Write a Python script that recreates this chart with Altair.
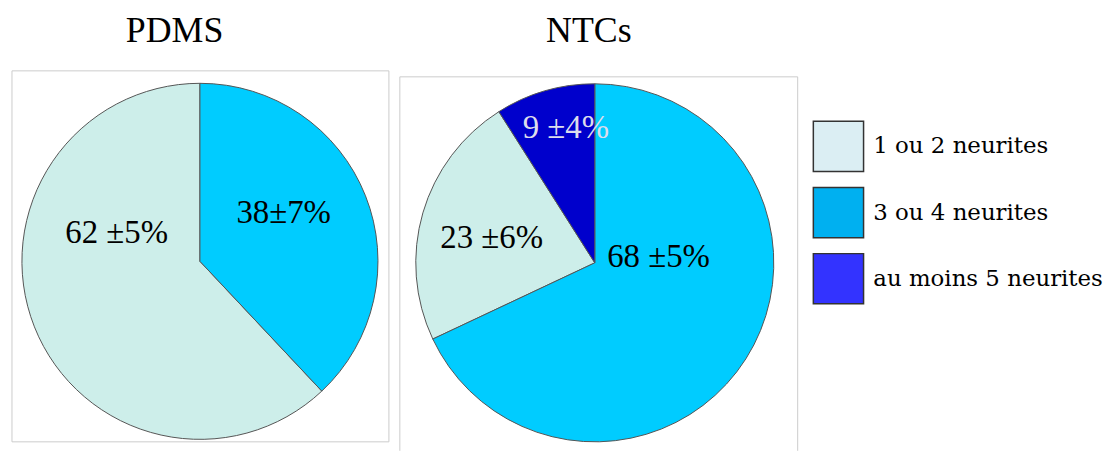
import altair as alt
import pandas as pd

# ---- data ----
categories = ["1 ou 2 neurites", "3 ou 4 neurites", "au moins 5 neurites"]
stack_order = ["3 ou 4 neurites", "1 ou 2 neurites", "au moins 5 neurites"]

pdms_categories = ["1 ou 2 neurites", "3 ou 4 neurites"]
pdms_values = [62, 38]
pdms_labels = ["62 ±5%", "38±7%"]

ntcs_categories = ["1 ou 2 neurites", "3 ou 4 neurites", "au moins 5 neurites"]
ntcs_values = [23, 68, 9]
ntcs_labels = ["23 ±6%", "68 ±5%", "9 ±4%"]

titles = ["PDMS", "NTCs"]

# ---- styles ----
pie_colors = ["#cdeeea", "#00ccff", "#0000cc"]
legend_colors = ["#dbeef3", "#00b0f0", "#3333ff"]
FONT = "Liberation Serif"
LABEL_FONT = "serif"
LEGEND_FONT = "DejaVu Serif"


def make_df(cats, vals, labels):
    return pd.DataFrame({
        "category": cats,
        "value": vals,
        "label": labels,
        "order": [stack_order.index(c) for c in cats],
    })


theta_scale = alt.Scale(domain=[0, 100])
color_scale = alt.Scale(domain=categories, range=pie_colors)


def pie(df, title, cx, cy, radius, label_specs, w, h, box_top, open_box):
    base = alt.Chart(df)
    arcs = base.mark_arc(outerRadius=radius, stroke="#555555", strokeWidth=1).encode(
        theta=alt.Theta("value:Q", stack=True, scale=theta_scale),
        color=alt.Color("category:N", scale=color_scale, legend=None),
        order=alt.Order("order:Q"),
        x=alt.value(cx),
        y=alt.value(cy),
    )
    layers = [arcs]
    for cat, (r, dx, dy, col) in label_specs.items():
        t = (
            base.transform_window(cum="sum(value)", sort=[alt.SortField("order")], frame=[None, 0])
            .transform_calculate(mid="datum.cum - datum.value / 2")
            .transform_filter(alt.datum.category == cat)
            .mark_text(radius=r, dx=dx, dy=dy, fontSize=33, font=LABEL_FONT,
                       color=col, align="center", baseline="middle")
            .encode(
                theta=alt.Theta("mid:Q", stack=False, scale=theta_scale),
                text="label:N",
                x=alt.value(cx),
                y=alt.value(cy),
            )
        )
        layers.append(t)
    edge = alt.Chart(df.head(1))
    layers.append(edge.mark_rule(color="#cccccc", strokeWidth=1).encode(
        x=alt.value(0), y=alt.value(box_top), y2=alt.value(h)))
    layers.append(edge.mark_rule(color="#cccccc", strokeWidth=1).encode(
        x=alt.value(w), y=alt.value(box_top), y2=alt.value(h)))
    layers.append(edge.mark_rule(color="#cccccc", strokeWidth=1).encode(
        x=alt.value(0), x2=alt.value(w), y=alt.value(box_top)))
    if not open_box:
        layers.append(edge.mark_rule(color="#cccccc", strokeWidth=1).encode(
            x=alt.value(0), x2=alt.value(w), y=alt.value(h)))
    return alt.layer(*layers).properties(
        width=w, height=h, view=alt.ViewBackground(stroke=None),
        title=alt.TitleParams(title, fontSize=36, font=FONT, fontWeight="normal",
                              color="black", anchor="middle",
                              dx=(-26 if title == titles[0] else -10),
                              offset=21),
    )


pdms_df = make_df(pdms_categories, pdms_values, pdms_labels)
ntcs_df = make_df(ntcs_categories, ntcs_values, ntcs_labels)

pdms_chart = pie(
    pdms_df, titles[0], 189, 191.5, 179,
    {"1 ou 2 neurites": (90, 0, -62, "black"),
     "3 ou 4 neurites": (97, -6, -13, "black")},
    379, 373, 0, False,
)
ntcs_chart = pie(
    ntcs_df, titles[1], 196, 193, 180,
    {"3 ou 4 neurites": (70, 5, -43, "black"),
     "1 ou 2 neurites": (107, -1, 5, "black"),
     "au moins 5 neurites": (140, 10, -1, "#dcdcec")},
    400, 382, 6, True,
)

legend_df = pd.DataFrame({"category": categories})
legend_y = alt.Y("category:N", scale=alt.Scale(type="point", domain=categories,
                                               range=[76, 209], padding=0), axis=None)
legend_base = alt.Chart(legend_df)
legend_squares = legend_base.mark_square(size=2550, stroke="#333333", strokeWidth=1.5,
                                         opacity=1, filled=True).encode(
    y=legend_y,
    x=alt.value(31),
    color=alt.Color("category:N", scale=alt.Scale(domain=categories, range=legend_colors),
                    legend=None),
)
legend_text = legend_base.mark_text(align="left", baseline="middle", fontSize=23,
                                    font=LEGEND_FONT, color="black").encode(
    y=legend_y,
    x=alt.value(66),
    text="category:N",
)
legend_chart = alt.layer(legend_squares, legend_text).properties(
    width=286, height=300, view=alt.ViewBackground(stroke=None)
)

chart = (
    alt.hconcat(pdms_chart, ntcs_chart, legend_chart, spacing=9)
    .resolve_scale(color="independent")
    .properties(padding={"top": 3, "left": 3, "right": 0, "bottom": 0}, background="white")
    .configure_view(stroke=None)
)

chart.save("out.html", embed_options={"renderer": "svg", "actions": False})
